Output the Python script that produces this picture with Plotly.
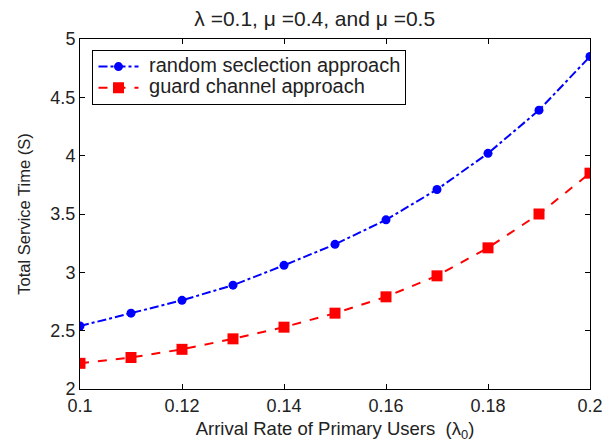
import plotly.graph_objects as go

arrival_rate = [0.10, 0.11, 0.12, 0.13, 0.14, 0.15, 0.16, 0.17, 0.18, 0.19, 0.20]
random_selection = [2.54, 2.65, 2.76, 2.89, 3.06, 3.24, 3.45, 3.71, 4.02, 4.39, 4.85]
guard_channel = [2.22, 2.27, 2.34, 2.43, 2.53, 2.65, 2.79, 2.97, 3.21, 3.50, 3.85]
x_ticks = [0.1, 0.12, 0.14, 0.16, 0.18, 0.2]
x_tick_labels = ["0.1", "0.12", "0.14", "0.16", "0.18", "0.2"]
y_ticks = [2, 2.5, 3, 3.5, 4, 4.5, 5]
y_tick_labels = ["2", "2.5", "3", "3.5", "4", "4.5", "5"]
series_names = ["random seclection approach", "guard channel approach"]

font = "Liberation Sans, Arial, sans-serif"


def big(name):
    return '<span style="font-size:20px">\u00a0' + name + "</span>"


fig = go.Figure()
fig.add_trace(go.Scatter(
    x=arrival_rate, y=random_selection, mode="lines+markers",
    name=big(series_names[0]),
    line=dict(color="#0000ff", width=2, dash="dashdot"),
    marker=dict(symbol="circle", size=9, color="#0000ff"),
))
fig.add_trace(go.Scatter(
    x=arrival_rate, y=guard_channel, mode="lines+markers",
    name=big(series_names[1]),
    line=dict(color="#ff0000", width=2, dash="dash"),
    marker=dict(symbol="square", size=11, color="#ff0000"),
))

axis_common = dict(
    showline=True, linecolor="black", linewidth=1, mirror="ticks",
    ticks="inside", ticklen=5, tickcolor="black", showgrid=False, zeroline=False,
    automargin=False,
    tickfont=dict(family=font, size=18, color="#222"),
)

fig.update_layout(
    width=605, height=437,
    margin=dict(l=72, r=23, t=31, b=56),
    paper_bgcolor="white", plot_bgcolor="white",
    font=dict(family=font, color="#222"),
    title=dict(text="λ =0.1, μ =0.4, and μ =0.5", x=0.507, xanchor="center",
               y=0.975, yanchor="middle", automargin=False,
               font=dict(family=font, size=21)),
    xaxis=dict(range=[0.1, 0.2], tickvals=x_ticks, ticktext=x_tick_labels,
               title=dict(text="Arrival Rate of Primary Users  (λ<sub>0</sub>)",
                          font=dict(family=font, size=18.5), standoff=7),
               **axis_common),
    yaxis=dict(range=[2, 5], tickvals=y_ticks, ticktext=y_tick_labels,
               title=dict(text="Total Service Time (S)",
                          font=dict(family=font, size=16.5), standoff=15),
               **axis_common),
    legend=dict(x=0.0245, y=0.9686, xanchor="left", yanchor="top",
                bordercolor="black", borderwidth=1, bgcolor="white",
                font=dict(family=font, size=14, color="#222"),
                tracegroupgap=0, itemwidth=40),
    showlegend=True,
)

fig.write_html("out.html")
